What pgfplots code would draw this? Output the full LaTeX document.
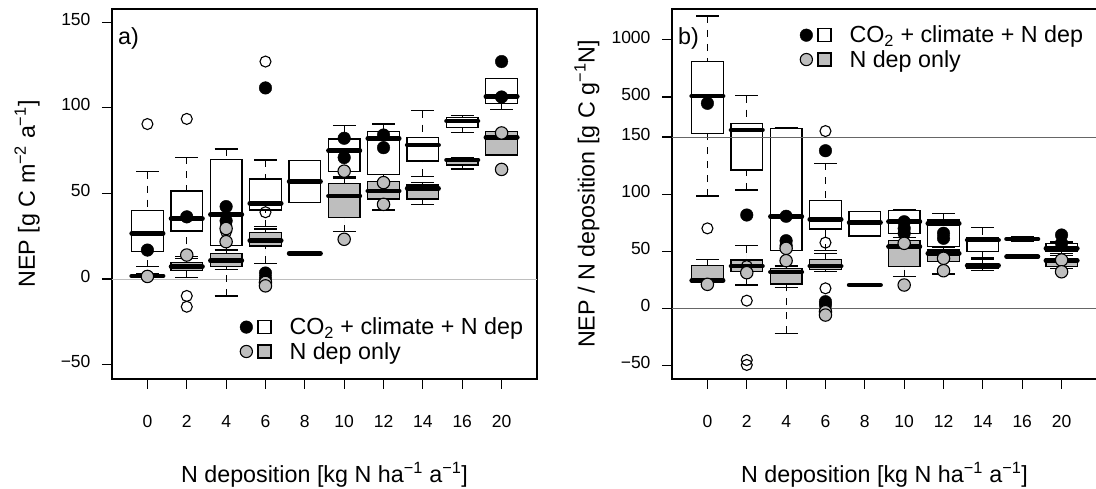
\documentclass[border=0pt]{standalone}
\usepackage{fontspec}
\setmainfont{Liberation Sans}
\usepackage{pgfplots}
\pgfplotsset{compat=1.18}
\usepgfplotslibrary{statistics}
\definecolor{rgray}{RGB}{190,190,190}
\newcommand{\labfont}{\fontsize{23.3}{26}\selectfont}
\newcommand{\tf}{\fontsize{17.5}{19}\selectfont}

\pgfplotsset{
  rstyle/.style={
    scale only axis, width=425pt, height=370pt,
    xmin=0.1, xmax=10.9,
    xtick={1,2,3,4,5,6,7,8,9,10},
    xticklabels={\tf 0,\tf 2,\tf 4,\tf 6,\tf 8,\tf 10,\tf 12,\tf 14,\tf 16,\tf 20},
    tick align=outside, tick pos=left,
    major tick length=10pt,
    axis line style={line width=1.7pt},
    every tick/.style={black, line width=1.1pt},
    tick label style={font=\tf, text height=12.5pt, text depth=0pt},
    xticklabel style={yshift=-22pt},
    yticklabel style={xshift=-8pt, text height=6.3pt, text depth=-6.3pt},
    xlabel style={font=\labfont, at={(axis description cs:0.5,-0.259)}, anchor=center},
    ylabel style={font=\labfont, at={(axis description cs:-0.2,0.5)}, anchor=center, rotate=0},
    boxplot/draw direction=y,
    boxplot/box extend=0.8,
    boxplot/whisker extend=0.58,
    boxplot/every median/.style={line width=4.6pt, line cap=round},
    boxplot/draw/lower whisker/.code={
      \draw[dash pattern=on 7pt off 7pt, line width=1.1pt] (boxplot cs:\pgfplotsboxplotvalue{lower whisker}) -- (boxplot cs:\pgfplotsboxplotvalue{lower quartile});
      \draw[line width=1.3pt] (boxplot whisker cs:\pgfplotsboxplotvalue{lower whisker},0) -- (boxplot whisker cs:\pgfplotsboxplotvalue{lower whisker},1);
    },
    boxplot/draw/upper whisker/.code={
      \draw[dash pattern=on 7pt off 7pt, line width=1.1pt] (boxplot cs:\pgfplotsboxplotvalue{upper whisker}) -- (boxplot cs:\pgfplotsboxplotvalue{upper quartile});
      \draw[line width=1.3pt] (boxplot whisker cs:\pgfplotsboxplotvalue{upper whisker},0) -- (boxplot whisker cs:\pgfplotsboxplotvalue{upper whisker},1);
    },
    legend style={draw=none, fill=none, font=\labfont, inner sep=0pt, row sep=2pt,
      nodes={inner sep=2pt},
      /tikz/every odd column/.append style={column sep=16pt}},
    legend cell align=left,
    openpts/.style={only marks, mark=o, mark size=5.5pt, mark options={line width=1.1pt, black}},
    blackpts/.style={only marks, mark=*, mark size=6.3pt, mark options={draw=black, fill=black}},
    graypts/.style={only marks, mark=*, mark size=6.2pt, mark options={draw=black, fill=rgray, line width=1.1pt}},
  },
  legwhite/.style={legend image code/.code={
      \draw[black, fill=black] (6.5pt,0pt) circle (6.3pt);
      \draw[black, fill=white, line width=1.3pt] (18pt,-6.5pt) rectangle (31pt,6.5pt);}},
  leggray/.style={legend image code/.code={
      \draw[black, fill=rgray, line width=1.1pt] (6.5pt,0pt) circle (6.1pt);
      \draw[black, fill=rgray, line width=1.3pt] (18pt,-6.5pt) rectangle (31pt,6.5pt);}},
}
% draw position, lower whisker, lower quartile, median, upper quartile, upper whisker, fill
\newcommand{\bx}[7]{\addplot[boxplot prepared={draw position=#1,lower whisker=#2,lower quartile=#3,median=#4,upper quartile=#5,upper whisker=#6}, draw=black, fill=#7, line width=1.3pt] coordinates {};}

\begin{document}
\begin{tikzpicture}
%================ panel a =================
\begin{axis}[rstyle, at={(112pt,110pt)}, anchor=south west,
  ymin=-58.4, ymax=157.7,
  ytick={-50,0,50,100,150}, yticklabels={\tf −50,\tf 0,\tf 50,\tf 100,\tf 150},
  ylabel={NEP [g C m\textsuperscript{−2} a\textsuperscript{−1}]},
  xlabel={N deposition [kg N ha\textsuperscript{−1} a\textsuperscript{−1}]},
  legend style={at={(axis description cs:0.30,0.171)}, anchor=north west},
]
\addlegendimage{legwhite}
\addlegendimage{leggray}
\addplot[rgray, line width=1pt] coordinates {(0.1,0) (10.9,0)};
% CO2 + climate + N dep (white)
\bx{1}{7.2}{16.0}{26.7}{39.9}{62.7}{white}
\bx{2}{12}{28}{35.2}{51.4}{71.1}{white}
\bx{3}{-9.9}{19.5}{37.6}{69.9}{75.9}{white}
\bx{4}{30.6}{40.3}{44.2}{58.4}{69.5}{white}
\bx{5}{44.6}{44.6}{56.9}{69.1}{69.1}{white}
\bx{6}{60}{62.7}{74.9}{81.8}{89.8}{white}
\bx{7}{57}{61.1}{82.1}{86}{90.5}{white}
\bx{8}{60}{68.9}{78.3}{82.8}{98.3}{white}
\bx{9}{85.5}{88.6}{92.3}{94.4}{95.5}{white}
\bx{10}{99.1}{102.6}{106.5}{117}{117}{white}
% N dep only (grey)
\bx{1}{0.8}{1.2}{1.8}{2.4}{3}{rgray}
\bx{2}{1}{4.9}{7.2}{9.5}{13}{rgray}
\bx{3}{5.6}{7.2}{10.7}{15}{17}{rgray}
\bx{4}{9.1}{19.3}{22.4}{27}{29.2}{rgray}
\bx{5}{15}{15}{15}{15}{15}{rgray}
\bx{6}{27.7}{36}{48.5}{55.9}{59}{rgray}
\bx{7}{40.3}{46.7}{51.4}{56.9}{61}{rgray}
\bx{8}{43.6}{46.7}{53}{54.9}{56.5}{rgray}
\bx{9}{64.3}{66.6}{69.5}{70.4}{71}{rgray}
\bx{10}{72.4}{72.4}{82.8}{86}{86}{rgray}
\addplot[openpts] coordinates {(1,90.5) (2,93.5) (2,-9.9) (2,-16.2) (3,31.5) (3,27.6) (4,127) (4,39)};
\addplot[blackpts] coordinates {(1,16.9) (2,36.3) (3,42.3) (3,34) (4,111.6) (4,3.5) (4,0.6) (6,82.2) (6,70.9) (7,84.1) (7,76.7) (10,127) (10,106.3)};
\addplot[graypts] coordinates {(1,1.5) (2,14) (3,21.8) (3,29.5) (4,-2) (4,-4) (6,63) (6,23.2) (7,56.3) (7,43.6) (10,85.3) (10,64)};
\node[anchor=west, font=\labfont, inner sep=0pt] at (axis description cs:0.014,0.919) {a)};
\legend{CO\textsubscript{2} + climate + N dep, N dep only}
\end{axis}
%================ panel b =================
% y axis is broken at 150: above 150 the plotted value is 150 + (value - 150)/10
\begin{axis}[rstyle, at={(672pt,110pt)}, anchor=south west,
  ymin=-61.9, ymax=262.1,
  ytick={-50,0,50,100,150,185,235}, yticklabels={\tf −50,\tf 0,\tf 50,\tf 100,\tf 150,\tf 500,\tf 1000},
  ylabel={NEP / N deposition [g C g\textsuperscript{−1}N]},
  xlabel={N deposition [kg N ha\textsuperscript{−1} a\textsuperscript{−1}]},
  legend style={at={(axis description cs:0.30,0.96)}, anchor=north west},
]
\addlegendimage{legwhite}
\addlegendimage{leggray}
% CO2 + climate + N dep (white)
\bx{1}{98.3}{153.2}{185.9}{216}{256}{white}
\bx{2}{103.6}{121.1}{156.1}{162}{186.2}{white}
\bx{3}{-21.9}{50.4}{80.2}{157.6}{158}{white}
\bx{4}{50.4}{69.4}{77.9}{94.2}{127}{white}
\bx{5}{63.3}{63.3}{75}{84.6}{84.6}{white}
\bx{6}{65.7}{65.7}{75.8}{85.5}{86.5}{white}
\bx{7}{50}{53.9}{74.4}{77.3}{83.2}{white}
\bx{8}{44}{49.6}{59.8}{62.2}{70.6}{white}
\bx{9}{58.5}{59.2}{60.7}{62.2}{63}{white}
\bx{10}{48}{49.6}{52.5}{56.9}{58}{white}
% N dep only (grey)
\bx{1}{24.5}{24.5}{24.5}{37.3}{42.9}{rgray}
\bx{2}{20.4}{32}{37}{42.3}{54.8}{rgray}
\bx{3}{18.4}{21.3}{31.8}{35}{37}{rgray}
\bx{4}{32}{34.1}{37}{42.9}{48}{rgray}
\bx{5}{20.4}{20.4}{20.4}{20.4}{20.4}{rgray}
\bx{6}{27.7}{36.4}{53.9}{59.2}{62}{rgray}
\bx{7}{30}{40.8}{48.2}{51}{53}{rgray}
\bx{8}{32.9}{35}{37.3}{39.4}{43.2}{rgray}
\bx{9}{44}{44.3}{45.2}{46}{46.5}{rgray}
\bx{10}{35}{36.4}{41.7}{43.8}{46}{rgray}
\addplot[black!60, line width=0.9pt] coordinates {(0.1,0) (10.9,0)};
\addplot[black!60, line width=0.9pt] coordinates {(0.1,150) (10.9,150)};
\addplot[openpts] coordinates {(1,70) (2,6.7) (2,-45.3) (2,-49.6) (2,37) (4,155.2) (4,57.5) (4,17.5)};
\addplot[blackpts] coordinates {(1,179.5) (2,81.7) (3,80.6) (3,59.2) (3,55) (4,138) (4,5.8) (4,2.9) (6,75.8) (6,70) (6,65.7) (7,65.7) (7,61.3) (10,64.2) (10,57)};
\addplot[graypts] coordinates {(1,21) (2,31.2) (3,52.5) (3,41.7) (4,-3) (4,-5.9) (6,56.9) (6,20.4) (7,43.8) (7,32.9) (10,42.3) (10,32)};
\node[anchor=west, font=\labfont, inner sep=0pt] at (axis description cs:0.014,0.919) {b)};
\legend{CO\textsubscript{2} + climate + N dep, N dep only}
\end{axis}
\pgfresetboundingbox
\path[use as bounding box] (0,0) rectangle (1096pt,489pt);
\end{tikzpicture}
\end{document}
